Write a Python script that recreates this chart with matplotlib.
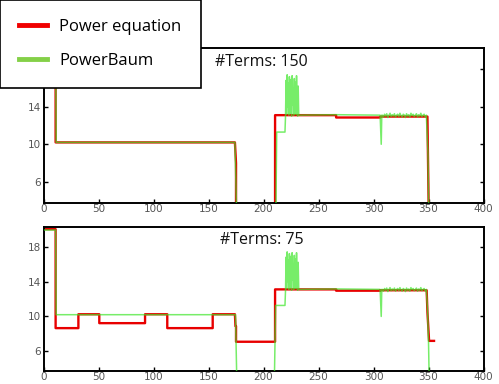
import matplotlib
matplotlib.use("Agg")
import matplotlib.pyplot as plt
from matplotlib.lines import Line2D

# ---------------- data ----------------
x_ticks = [0, 50, 100, 150, 200, 250, 300, 350, 400]
y_ticks = [6, 10, 14, 18]
titles = ["#Terms: 150", "#Terms: 75"]
legend_labels = ["Power equation", "PowerBaum"]

# spikes in the PowerBaum trace (x from 220 to 232, step 0.5)
spike_x = [220 + 0.5 * i for i in range(25)]
spike_y = [13.0, 16.8, 13.2, 17.4, 14.0, 16.5, 13.1, 17.2, 15.0, 13.3, 16.9, 13.0,
           17.3, 14.2, 16.0, 13.1, 17.0, 13.4, 16.6, 13.2, 17.3, 14.5, 13.0, 16.2, 13.1]
# noisy segment of the PowerBaum trace (x from 308 to 348, step 1)
noise_x = list(range(308, 349))
noise_y = [13.1, 12.9, 13.2, 13.0, 13.25, 12.85, 13.1, 13.3, 12.95, 13.15, 13.0,
           13.25, 12.9, 13.1, 13.2, 12.95, 13.3, 13.05, 12.9, 13.2, 13.1, 12.85,
           13.25, 13.0, 13.15, 12.9, 13.3, 13.05, 13.2, 12.95, 13.1, 13.25, 12.9,
           13.15, 13.0, 13.3, 12.95, 13.1, 13.2, 12.9, 13.1]

# Top panel (#Terms 150)
top_red_x = [0, 11, 11, 174, 175, 175, 210.5, 210.5, 266, 266, 306, 306, 349, 350.5]
top_red_y = [20.5, 20.5, 10.2, 10.2, 8.0, 0.0, 0.0, 13.1, 13.1, 12.85, 12.85, 12.95, 12.95, 0.0]
top_green_x = ([0, 11, 11.5, 174, 175.5, 175.5, 211, 212, 219.5] + spike_x +
               [266, 306, 307, 307.5] + noise_x + [349, 349.5, 350.5])
top_green_y = ([20.5, 20.5, 10.2, 10.2, 3.0, 0.0, 0.0, 11.3, 11.3] + spike_y +
               [13.15, 13.1, 10.0, 13.1] + noise_y + [10.4, 9.0, 0.0])

# Bottom panel (#Terms 75)
bot_red_x = [0, 11, 11, 31.7, 31.7, 50.7, 50.7, 92.3, 92.3, 112.5, 112.5, 153.8, 153.8,
             174, 174.5, 175, 175, 210.5, 210.5, 266, 266, 306, 306, 348.3, 349, 350.5, 355]
bot_red_y = [20.0, 20.0, 8.66, 8.66, 10.25, 10.25, 9.23, 9.23, 10.25, 10.25, 8.66, 8.66, 10.25,
             10.25, 8.9, 8.9, 7.1, 7.1, 13.1, 13.1, 12.95, 12.95, 13.0, 13.0, 10.5, 7.2, 7.2]
bot_green_x = ([0, 11, 11.5, 174.5, 175.5, 175.5, 209.5, 211, 212, 219.5] + spike_x +
               [266, 306, 307, 307.5] + noise_x + [349, 350, 351])
bot_green_y = ([19.9, 19.9, 10.2, 10.2, 4.0, 0.0, 0.0, 11.26, 11.26, 11.26] + spike_y +
               [13.15, 13.1, 10.0, 13.1] + noise_y + [11.0, 7.0, 0.0])

# ---------------- style ----------------
RED = "#e80000"
GREEN = "#3ee62a"
LEG_RED = "#f00000"
LEG_GREEN = "#84d048"

fig = plt.figure(figsize=(4.99, 3.84), dpi=100)
ax1 = fig.add_axes([0.0872, 0.4714, 0.8818, 0.4036])
ax2 = fig.add_axes([0.0872, 0.0339, 0.8818, 0.3750])

panels = [
    (ax1, top_red_x, top_red_y, top_green_x, top_green_y, titles[0]),
    (ax2, bot_red_x, bot_red_y, bot_green_x, bot_green_y, titles[1]),
]
for ax, rx, ry, gx, gy, title in panels:
    ax.plot(rx, ry, color=RED, lw=1.7, zorder=2)
    ax.plot(gx, gy, color=GREEN, lw=1.1, alpha=0.7, zorder=3)
    ax.set_xlim(0, 400)
    ax.set_ylim(3.75, 20.25)
    ax.set_xticks(x_ticks)
    ax.set_yticks(y_ticks)
    ax.tick_params(direction="in", length=3, width=1, labelsize=7.5,
                   labelcolor="#555555", pad=2, right=True)
    ax.tick_params(axis="x", pad=1)
    for s in ax.spines.values():
        s.set_linewidth(1.4)
        s.set_color("black")
    ax.text(198, 0.91, title, transform=ax.get_xaxis_transform(),
            ha="center", va="center", fontsize=11.5, family="Open Sans", color="#111111")

handles = [Line2D([], [], color=LEG_RED, lw=3.5), Line2D([], [], color=LEG_GREEN, lw=3.5)]
leg = fig.legend(handles, legend_labels, loc="upper left", bbox_to_anchor=(0.0, 1.0),
                 bbox_transform=fig.transFigure, frameon=True, fancybox=False, framealpha=1.0,
                 prop={"family": "Open Sans", "size": 12}, handlelength=1.7,
                 handletextpad=0.7, labelspacing=1.05, borderpad=1.15, borderaxespad=0.0)
leg.get_frame().set_edgecolor("black")
leg.get_frame().set_linewidth(1.2)
leg.set_zorder(10)

fig.savefig("out.png", dpi=100)
